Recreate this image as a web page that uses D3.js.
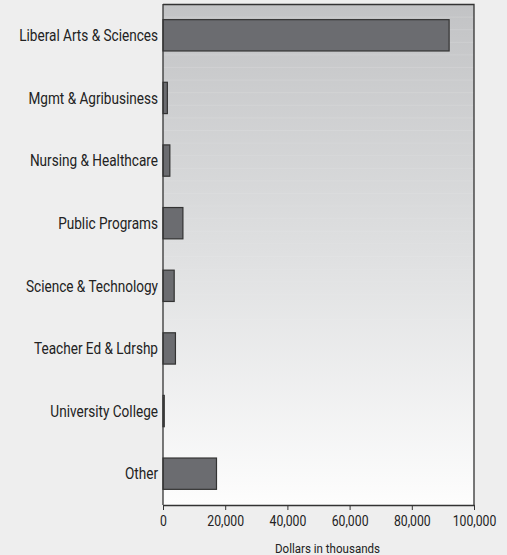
<!DOCTYPE html>
<html><head><meta charset="utf-8">
<script src="https://cdn.jsdelivr.net/npm/d3@7"></script>
<style>
html,body{margin:0;padding:0;background:#eeeeee;}
svg{display:block;}
text{font-family:Roboto,"Liberation Sans",sans-serif;fill:#222;}
</style></head>
<body>
<script>
const categories = ["Liberal Arts & Sciences","Mgmt & Agribusiness","Nursing & Healthcare","Public Programs","Science & Technology","Teacher Ed & Ldrshp","University College","Other"];
const values = [92000, 1400, 2200, 6400, 3600, 4000, 400, 17200];
const xTicks = [0, 20000, 40000, 60000, 80000, 100000];
const xTitle = "Dollars in thousands";

const W = 507, H = 555;
const m = {left:163, right:33, top:4, bottom:50};
const iw = W - m.left - m.right, ih = H - m.top - m.bottom;
const SX = 0.85; // horizontal condensing to mimic a narrow typeface

const svg = d3.select("body").append("svg").attr("width", W).attr("height", H);
const defs = svg.append("defs");
const grad = defs.append("linearGradient").attr("id","bg").attr("x1",0).attr("y1",0).attr("x2",0).attr("y2",1);
grad.append("stop").attr("offset","0%").attr("stop-color","#c2c3c5");
grad.append("stop").attr("offset","50%").attr("stop-color","#dfe0e1");
grad.append("stop").attr("offset","100%").attr("stop-color","#fdfdfd");

const g = svg.append("g").attr("transform",`translate(${m.left},${m.top})`);
const x = d3.scaleLinear().domain([0,100000]).range([0, iw]);
const y = d3.scaleBand().domain(categories).range([0, ih]).paddingInner(0.5).paddingOuter(0.25);

g.append("rect").attr("width", iw).attr("height", ih).attr("fill","url(#bg)");

const stripes = d3.range(12.6, ih, 12.6);
g.selectAll("line.stripe").data(stripes).join("line").attr("class","stripe")
  .attr("x1",0).attr("x2",iw).attr("y1",d=>d+0.5).attr("y2",d=>d+0.5)
  .attr("stroke","#ffffff").attr("stroke-opacity",d=>0.15*(1-d/ih)).attr("stroke-width",1);

g.selectAll("rect.bar").data(categories).join("rect").attr("class","bar")
  .attr("x", x(0)).attr("y", d=>y(d))
  .attr("width", (d,i)=>x(values[i]) - x(0)).attr("height", y.bandwidth())
  .attr("fill","#6b6c70").attr("stroke","#333").attr("stroke-width",1.2);

g.append("path").attr("d",`M0,0.5H${iw}V${ih}`).attr("fill","none").attr("stroke","#333").attr("stroke-width",1.3);
g.append("line").attr("x1",0).attr("x2",0).attr("y1",0).attr("y2",ih).attr("stroke","#333").attr("stroke-width",1.3);

const xAxis = g.append("g").attr("transform",`translate(0,${ih})`)
  .call(d3.axisBottom(x).tickValues(xTicks).tickFormat(d3.format(",")).tickSize(5).tickSizeOuter(0));
xAxis.select(".domain").attr("stroke","#333").attr("stroke-width",1.3);
xAxis.selectAll(".tick line").attr("stroke","#333");
xAxis.selectAll(".tick text")
  .attr("font-size","14.4px").attr("y",null).attr("dy","0.85em").attr("fill","#222")
  .attr("transform",`translate(0,9) scale(${SX},1)`)
  .style("font-family",'Roboto,"Liberation Sans",sans-serif');

g.selectAll("text.cat").data(categories).join("text").attr("class","cat")
  .attr("transform",d=>`translate(-5,${y(d)+y.bandwidth()/2}) scale(${SX},1)`)
  .attr("dy","0.36em")
  .attr("text-anchor","end").attr("font-size","16px").text(d=>d);

svg.append("text").attr("transform",`translate(${m.left + iw/2 + 9},548) scale(${SX},1)`)
  .attr("dy","0.36em").attr("text-anchor","middle")
  .attr("font-size","13.6px").text(xTitle);
</script>
</body></html>
